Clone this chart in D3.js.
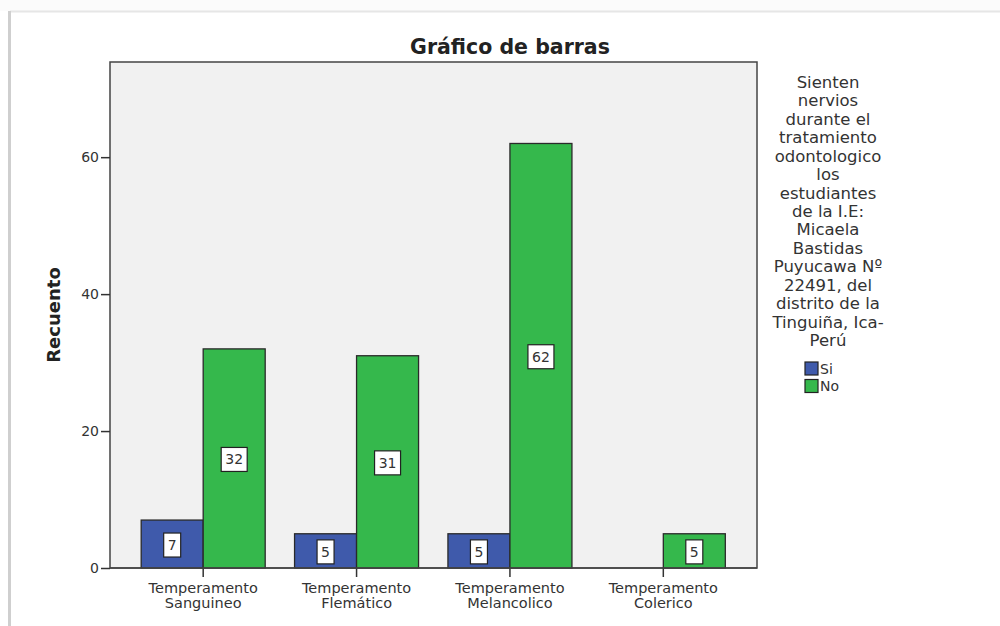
<!DOCTYPE html>
<html>
<head>
<meta charset="utf-8">
<script src="https://cdn.jsdelivr.net/npm/d3@7"></script>
<style>
  body { margin: 0; background: #fff; }
  svg { display: block; font-family: "DejaVu Sans", sans-serif; }
</style>
</head>
<body>
<script>
"use strict";
var svg_width = 1000;
var svg_height = 626;

// ---data
var categories = ["Temperamento Sanguineo", "Temperamento Flemático", "Temperamento Melancolico", "Temperamento Colerico"];
var tick_lines = [["Temperamento", "Sanguineo"], ["Temperamento", "Flemático"], ["Temperamento", "Melancolico"], ["Temperamento", "Colerico"]];
var series_names = ["Si", "No"];
var si_values = [7, 5, 5, 0];
var no_values = [32, 31, 62, 5];
var y_ticks = [0, 20, 40, 60];
var legend_title = ["Sienten", "nervios", "durante el", "tratamiento", "odontologico", "los", "estudiantes", "de la I.E:", "Micaela", "Bastidas", "Puyucawa Nº", "22491, del", "distrito de la", "Tinguiña, Ica-", "Perú"];

var colors = { "Si": "#3f5aab", "No": "#35b84c" };
var plot = { left: 110, right: 757, top: 62, bottom: 568 };

var svg = d3.select("body").append("svg")
    .attr("width", svg_width)
    .attr("height", svg_height);

// ---frame lines of the screenshot card
svg.append("rect").attr("x", 0).attr("y", 0).attr("width", svg_width).attr("height", 11).attr("fill", "#fbfbfb");
svg.append("line").attr("x1", 10).attr("x2", svg_width).attr("y1", 11.5).attr("y2", 11.5).attr("stroke", "#e6e6e6").attr("stroke-width", 2);
svg.append("line").attr("x1", 9.5).attr("x2", 9.5).attr("y1", 11).attr("y2", svg_height).attr("stroke", "#cfcfcf").attr("stroke-width", 3);

var yscale = d3.scaleLinear()
    .domain([0, 73.9])
    .range([plot.bottom, plot.top]);

var xscale = d3.scaleBand()
    .domain(categories)
    .range([plot.left + 16.5, plot.right - 17])
    .padding(0);

var inner = d3.scaleBand()
    .domain(series_names)
    .range([0, 124]);

// ---plot background
svg.append("rect")
    .attr("x", plot.left)
    .attr("y", plot.top)
    .attr("width", plot.right - plot.left)
    .attr("height", plot.bottom - plot.top)
    .attr("fill", "#f1f1f1")
    .attr("stroke", "#444")
    .attr("stroke-width", 1.5);

var rows = [];
categories.forEach(function(c, i)
{
    rows.push({ cat: c, series: "Si", value: si_values[i] });
    rows.push({ cat: c, series: "No", value: no_values[i] });
});
rows = rows.filter(function(d) { return d.value > 0; });

function barX(d)
{
    return xscale(d.cat) + xscale.bandwidth() / 2 - 62 + inner(d.series);
}

svg.selectAll("rect.bar")
    .data(rows)
    .enter()
    .append("rect")
    .attr("class", "bar")
    .attr("x", barX)
    .attr("y", function(d) { return yscale(d.value); })
    .attr("width", inner.bandwidth())
    .attr("height", function(d) { return yscale(0) - yscale(d.value); })
    .attr("fill", function(d) { return colors[d.series]; })
    .attr("stroke", "#2a2a2a")
    .attr("stroke-width", 1.3);

// ---value labels in white boxes
var label = svg.selectAll("g.lab")
    .data(rows)
    .enter()
    .append("g")
    .attr("class", "lab")
    .attr("transform", function(d)
    {
        var cx = barX(d) + inner.bandwidth() / 2;
        var cy = (yscale(d.value) + yscale(0)) / 2 + 1;
        return "translate(" + cx + "," + cy + ")";
    });
label.append("rect")
    .attr("x", function(d) { return String(d.value).length > 1 ? -13 : -8.5; })
    .attr("y", -12)
    .attr("width", function(d) { return String(d.value).length > 1 ? 26 : 17; })
    .attr("height", 24)
    .attr("fill", "#fff")
    .attr("stroke", "#222")
    .attr("stroke-width", 1.2);
label.append("text")
    .attr("text-anchor", "middle")
    .attr("dy", "0.36em")
    .attr("font-size", 14)
    .attr("fill", "#333")
    .text(function(d) { return d.value; });

// ---axes
var yaxis = d3.axisLeft(yscale).tickValues(y_ticks).tickSize(9).tickPadding(2);
var gy = svg.append("g")
    .attr("transform", "translate(" + plot.left + ",0)")
    .call(yaxis);
gy.select(".domain").remove();
gy.selectAll("line").attr("stroke", "#333").attr("stroke-width", 1.5);
gy.selectAll("text").attr("font-size", 14).attr("fill", "#333").attr("font-family", "'DejaVu Sans', sans-serif");

var xaxis = d3.axisBottom(xscale).tickSize(9).tickFormat("");
var gx = svg.append("g")
    .attr("transform", "translate(0," + plot.bottom + ")")
    .call(xaxis);
gx.select(".domain").remove();
gx.selectAll("line").attr("stroke", "#333").attr("stroke-width", 1.5);
gx.selectAll(".tick").each(function(d, i)
{
    var t = d3.select(this).append("text")
        .attr("text-anchor", "middle")
        .attr("font-size", 14.5)
        .attr("fill", "#333")
        .attr("font-family", "'DejaVu Sans', sans-serif")
        .attr("y", 25);
    tick_lines[i].forEach(function(line, k)
    {
        t.append("tspan").attr("x", 0).attr("dy", k === 0 ? 0 : 15).text(line);
    });
});

// ---redraw zero line over bar bottoms
svg.append("line")
    .attr("x1", plot.left).attr("x2", plot.right)
    .attr("y1", plot.bottom).attr("y2", plot.bottom)
    .attr("stroke", "#444").attr("stroke-width", 1.5);

// ---titles
svg.append("text")
    .attr("x", 510)
    .attr("y", 54)
    .attr("text-anchor", "middle")
    .attr("font-size", 20.5)
    .attr("font-weight", "bold")
    .attr("fill", "#222")
    .text("Gráfico de barras");

svg.append("text")
    .attr("transform", "translate(60,315) rotate(-90)")
    .attr("text-anchor", "middle")
    .attr("font-size", 18)
    .attr("font-weight", "bold")
    .attr("fill", "#222")
    .text("Recuento");

// ---legend
svg.append("g").selectAll("text")
    .data(legend_title)
    .enter()
    .append("text")
    .attr("x", 828)
    .attr("y", function(d, i) { return 88 + i * 18.43; })
    .attr("text-anchor", "middle")
    .attr("font-size", 16.5)
    .attr("fill", "#333")
    .text(function(d) { return d; });

var legend_item = svg.append("g").selectAll("g")
    .data(series_names)
    .enter()
    .append("g")
    .attr("transform", function(d, i) { return "translate(805," + (362 + i * 17.5) + ")"; });
legend_item.append("rect")
    .attr("width", 13)
    .attr("height", 13)
    .attr("fill", function(d) { return colors[d]; })
    .attr("stroke", "#222")
    .attr("stroke-width", 1.2);
legend_item.append("text")
    .attr("x", 15)
    .attr("y", 11.5)
    .attr("font-size", 14)
    .attr("fill", "#333")
    .text(function(d) { return d; });
</script>
</body>
</html>
